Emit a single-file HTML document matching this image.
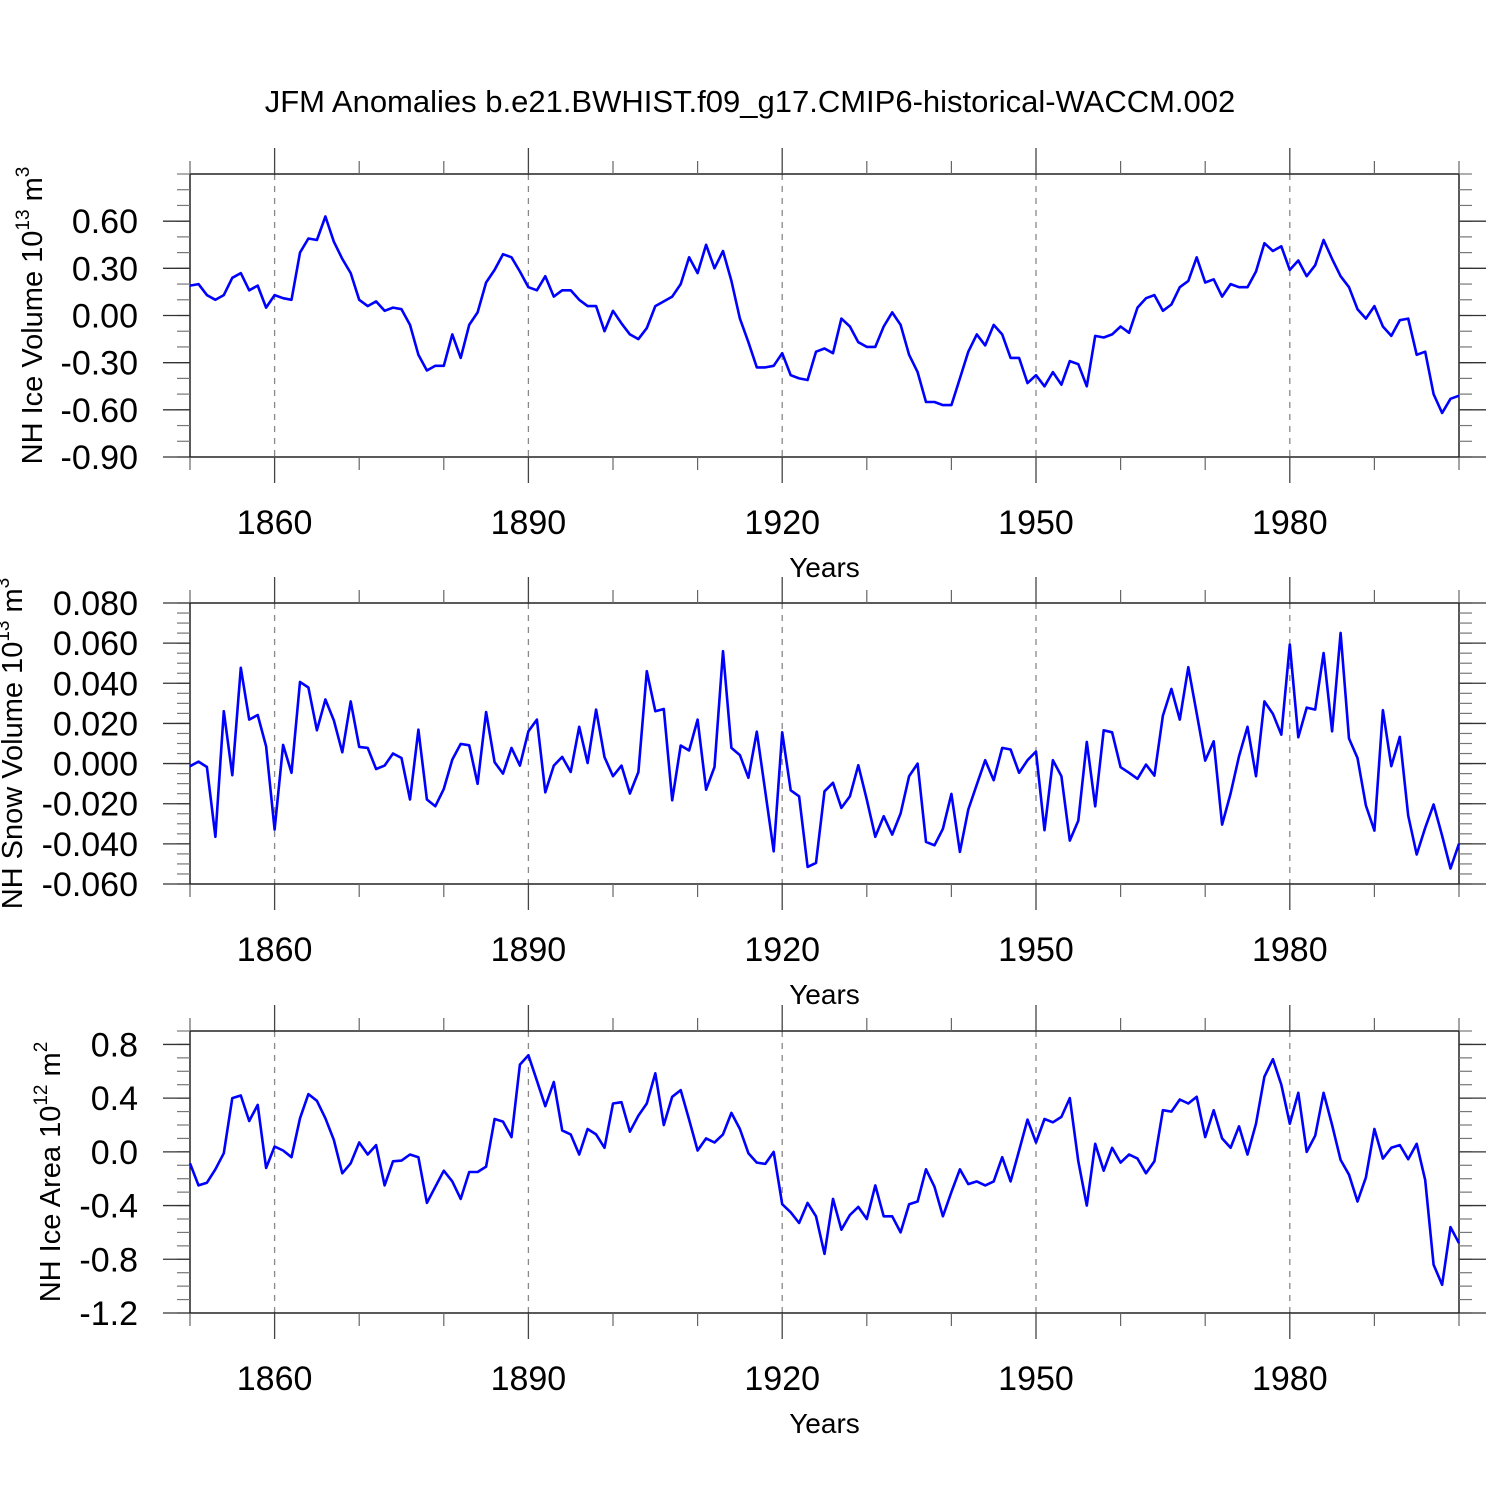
<!DOCTYPE html>
<html><head><meta charset="utf-8"><style>
html,body{margin:0;padding:0;background:#fff;}
svg text{font-family:"Liberation Sans",Arial,sans-serif;fill:#000;}
</style></head><body>
<svg id="chart" width="1500" height="1500" viewBox="0 0 1500 1500" xmlns="http://www.w3.org/2000/svg">
<rect width="1500" height="1500" fill="#fff"/>
<text x="750" y="112" font-size="31" text-anchor="middle">JFM Anomalies b.e21.BWHIST.f09_g17.CMIP6-historical-WACCM.002</text>
</svg>
<script>
const startYear = 1850;
const iceVolume = [0.19,0.20,0.13,0.10,0.13,0.24,0.27,0.16,0.19,0.05,0.13,0.11,0.10,0.40,0.49,0.48,0.63,0.47,0.36,0.27,
0.10,0.06,0.09,0.03,0.05,0.04,-0.06,-0.25,-0.35,-0.32,-0.32,-0.12,-0.27,-0.06,0.02,0.21,0.29,0.39,0.37,0.28,
0.18,0.16,0.25,0.12,0.16,0.16,0.10,0.06,0.06,-0.10,0.03,-0.05,-0.12,-0.15,-0.08,0.06,0.09,0.12,0.20,0.37,
0.27,0.45,0.30,0.41,0.22,-0.02,-0.17,-0.33,-0.33,-0.32,-0.24,-0.38,-0.40,-0.41,-0.23,-0.21,-0.24,-0.02,-0.07,-0.17,
-0.20,-0.20,-0.07,0.02,-0.06,-0.25,-0.36,-0.55,-0.55,-0.57,-0.57,-0.40,-0.23,-0.12,-0.19,-0.06,-0.12,-0.27,-0.27,-0.43,
-0.38,-0.45,-0.36,-0.44,-0.29,-0.31,-0.45,-0.13,-0.14,-0.12,-0.07,-0.11,0.05,0.11,0.13,0.03,0.07,0.18,0.22,0.37,
0.21,0.23,0.12,0.20,0.18,0.18,0.28,0.46,0.41,0.44,0.29,0.35,0.25,0.32,0.48,0.36,0.25,0.18,0.04,-0.02,
0.06,-0.07,-0.13,-0.03,-0.02,-0.25,-0.23,-0.50,-0.62,-0.53,-0.51];
const snowVolume = [-0.0013,0.0010,-0.0017,-0.0365,0.0261,-0.0058,0.0477,0.0219,0.0242,0.0086,-0.0329,0.0093,-0.0046,0.0407,0.0379,0.0166,0.0319,0.0216,0.0056,0.0310,
0.0083,0.0078,-0.0027,-0.0010,0.0050,0.0028,-0.0179,0.0169,-0.0179,-0.0213,-0.0126,0.0020,0.0098,0.0091,-0.0101,0.0257,0.0007,-0.0050,0.0078,-0.0010,
0.0161,0.0219,-0.0143,-0.0010,0.0033,-0.0042,0.0183,0.0003,0.0269,0.0032,-0.0063,-0.0010,-0.0149,-0.0042,0.0460,0.0261,0.0272,-0.0183,0.0090,0.0065,
0.0219,-0.0130,-0.0017,0.0560,0.0078,0.0042,-0.0071,0.0159,-0.0140,-0.0437,0.0156,-0.0133,-0.0163,-0.0515,-0.0495,-0.0138,-0.0096,-0.0221,-0.0163,-0.0008,
-0.0180,-0.0365,-0.0262,-0.0354,-0.0249,-0.0063,0.0000,-0.0390,-0.0407,-0.0325,-0.0151,-0.0440,-0.0229,-0.0105,0.0017,-0.0083,0.0078,0.0070,-0.0046,0.0017,
0.0060,-0.0332,0.0017,-0.0063,-0.0384,-0.0284,0.0108,-0.0213,0.0166,0.0156,-0.0018,-0.0046,-0.0076,-0.0005,-0.0060,0.0239,0.0372,0.0219,0.0480,0.0250,
0.0015,0.0111,-0.0304,-0.0149,0.0036,0.0183,-0.0063,0.0310,0.0248,0.0144,0.0593,0.0131,0.0279,0.0269,0.0551,0.0161,0.0651,0.0125,0.0028,-0.0209,
-0.0334,0.0266,-0.0013,0.0133,-0.0259,-0.0453,-0.0320,-0.0204,-0.0359,-0.0523,-0.0399];
const iceArea = [-0.085,-0.25,-0.23,-0.13,-0.01,0.40,0.42,0.23,0.35,-0.12,0.04,0.01,-0.04,0.25,0.43,0.38,0.25,0.09,-0.16,-0.085,
0.07,-0.02,0.05,-0.25,-0.07,-0.065,-0.02,-0.04,-0.38,-0.26,-0.14,-0.22,-0.35,-0.15,-0.15,-0.11,0.245,0.225,0.11,0.65,
0.72,0.53,0.34,0.52,0.16,0.13,-0.02,0.17,0.13,0.03,0.36,0.37,0.15,0.27,0.36,0.585,0.20,0.41,0.46,0.24,
0.01,0.10,0.07,0.13,0.29,0.17,-0.01,-0.08,-0.09,0.00,-0.39,-0.45,-0.53,-0.38,-0.48,-0.76,-0.35,-0.58,-0.47,-0.41,
-0.50,-0.25,-0.48,-0.48,-0.60,-0.39,-0.37,-0.13,-0.26,-0.48,-0.30,-0.13,-0.24,-0.22,-0.25,-0.22,-0.04,-0.22,0.01,0.24,
0.07,0.245,0.22,0.26,0.40,-0.07,-0.40,0.06,-0.14,0.03,-0.08,-0.02,-0.05,-0.16,-0.07,0.31,0.30,0.39,0.36,0.41,
0.11,0.31,0.10,0.03,0.19,-0.02,0.21,0.56,0.69,0.50,0.21,0.44,0.00,0.12,0.44,0.20,-0.06,-0.17,-0.37,-0.19,
0.17,-0.05,0.03,0.05,-0.055,0.06,-0.21,-0.84,-0.99,-0.56,-0.68];
const xMajorTicks = [1860,1890,1920,1950,1980];
const xMinorTicks = [1850,1870,1880,1900,1910,1930,1940,1960,1970,1990,2000];
const p1Ticks = [0.6,0.3,0.0,-0.3,-0.6,-0.9];
const p1Labels = ["0.60","0.30","0.00","-0.30","-0.60","-0.90"];
const p2Ticks = [0.08,0.06,0.04,0.02,0,-0.02,-0.04,-0.06];
const p2Labels = ["0.080","0.060","0.040","0.020","0.000","-0.020","-0.040","-0.060"];
const p3Ticks = [0.8,0.4,0,-0.4,-0.8,-1.2];
const p3Labels = ["0.8","0.4","0.0","-0.4","-0.8","-1.2"];

const NS = "http://www.w3.org/2000/svg";
const svg = document.getElementById('chart');
const X0 = 190, X1 = 1459, Y0 = 1850, Y1 = 2000;
function xs(yr){ return X0 + (yr - Y0) / (Y1 - Y0) * (X1 - X0); }
function mk(tag, attrs, parent){ const e = document.createElementNS(NS, tag); for (const k in attrs) e.setAttribute(k, attrs[k]); (parent||svg).appendChild(e); return e; }

function panel(cfg){
  const g = mk('g', {});
  
  
  const ys = v => cfg.bottom - (v - cfg.min) / (cfg.max - cfg.min) * (cfg.bottom - cfg.top);
  xMajorTicks.forEach(yr => {
    const l = mk('line', {x1:xs(yr), x2:xs(yr), y1:cfg.top, y2:cfg.bottom, stroke:'#888', 'stroke-width':1.3, 'stroke-dasharray':'6,6'}, g);
    
    
  });
  const fr = mk('rect', {x:X0, y:cfg.top, width:X1-X0, height:cfg.bottom-cfg.top, fill:'none', stroke:'#000', 'stroke-width':1.3}, g);
  
  
  xMajorTicks.forEach(yr => {
    const x = xs(yr);
    mk('line', {x1:x, x2:x, y1:cfg.top-26, y2:cfg.top, stroke:'#444', 'stroke-width':1.3}, g);
    mk('line', {x1:x, x2:x, y1:cfg.bottom, y2:cfg.bottom+26, stroke:'#444', 'stroke-width':1.3}, g);
    const t = mk('text', {x:x, y:cfg.bottom+77, 'font-size':34, 'text-anchor':'middle'}, g);
    
    
    t.textContent = String(yr);
  });
  xMinorTicks.forEach(yr => {
    const x = xs(yr);
    mk('line', {x1:x, x2:x, y1:cfg.top-13, y2:cfg.top, stroke:'#666', 'stroke-width':1.2}, g);
    mk('line', {x1:x, x2:x, y1:cfg.bottom, y2:cfg.bottom+13, stroke:'#666', 'stroke-width':1.2}, g);
  });
  const nMin = Math.round((cfg.max - cfg.min) / cfg.minor);
  for (let i = 0; i <= nMin; i++){
    const y = ys(cfg.min + i * cfg.minor);
    mk('line', {x1:X0-13, x2:X0, y1:y, y2:y, stroke:'#777', 'stroke-width':1.2}, g);
    mk('line', {x1:X1, x2:X1+13, y1:y, y2:y, stroke:'#777', 'stroke-width':1.2}, g);
  }
  cfg.ticks.forEach((v, i) => {
    const y = ys(v);
    mk('line', {x1:X0-27, x2:X0, y1:y, y2:y, stroke:'#333', 'stroke-width':1.3}, g);
    mk('line', {x1:X1, x2:X1+27, y1:y, y2:y, stroke:'#333', 'stroke-width':1.3}, g);
    const t = mk('text', {x:138, y:y+12, 'font-size':34, 'text-anchor':'end'}, g);
    
    
    t.textContent = cfg.labels[i];
  });
  const xt = mk('text', {x:(X0+X1)/2, y:cfg.bottom+120, 'font-size':28, 'text-anchor':'middle'}, g);
  
  
  xt.textContent = 'Years';
  const cy = (cfg.top + cfg.bottom) / 2;
  const yt = mk('text', {x:0, y:0, 'font-size':29, 'text-anchor':'middle', transform:'translate(' + (cfg.titleX + 10) + ',' + cy + ') rotate(-90)'}, g);
  
  
  const s1 = mk('tspan', {}, yt); s1.textContent = cfg.title + ' 10';
  const s2 = mk('tspan', {'font-size':19, dy:-13}, yt); s2.textContent = cfg.exp1;
  const s3 = mk('tspan', {dy:13}, yt); s3.textContent = ' m';
  const s4 = mk('tspan', {'font-size':19, dy:-13}, yt); s4.textContent = cfg.exp2;
  const pts = cfg.data.map((v, i) => xs(startYear + i).toFixed(1) + ',' + ys(v).toFixed(1)).join(' ');
  const pl = mk('polyline', {points:pts, fill:'none', stroke:'#0000ff', 'stroke-width':2.6, 'stroke-linejoin':'round'}, g);
  
  
}

panel({name:'ice-volume-panel', seriesName:'ice-volume-line', top:174, bottom:457, min:-0.9, max:0.9, minor:0.1,
  ticks:p1Ticks, labels:p1Labels, data:iceVolume, title:'NH Ice Volume', exp1:'13', exp2:'3', titleX:32});
panel({name:'snow-volume-panel', seriesName:'snow-volume-line', top:603, bottom:884, min:-0.06, max:0.08, minor:0.005,
  ticks:p2Ticks, labels:p2Labels, data:snowVolume, title:'NH Snow Volume', exp1:'13', exp2:'3', titleX:12});
panel({name:'ice-area-panel', seriesName:'ice-area-line', top:1031, bottom:1313, min:-1.2, max:0.9, minor:0.1,
  ticks:p3Ticks, labels:p3Labels, data:iceArea, title:'NH Ice Area', exp1:'12', exp2:'2', titleX:50});
</script>
</body></html>
